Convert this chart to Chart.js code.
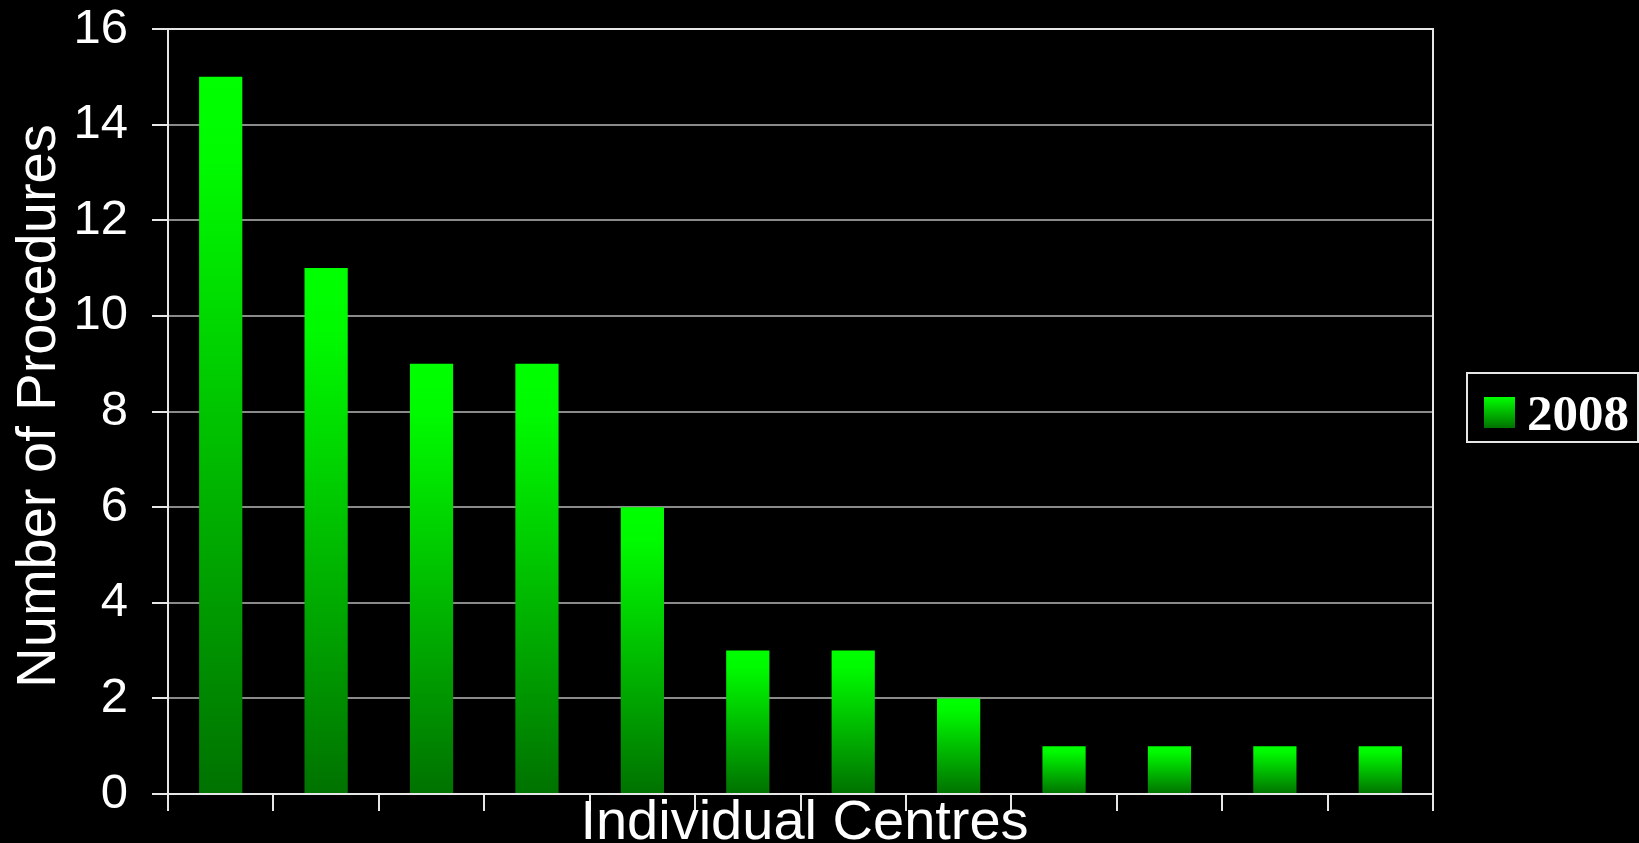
<!DOCTYPE html>
<html>
<head>
<meta charset="utf-8">
<style>
  html, body { margin: 0; padding: 0; background: #000; }
  #wrap { width: 1639px; height: 843px; position: relative; }
  canvas { display: block; }
</style>
<script src="https://cdn.jsdelivr.net/npm/chart.js@4/dist/chart.umd.min.js"></script>
</head>
<body>
<div id="wrap"><canvas id="c" width="1639" height="843"></canvas></div>
<script>
const categories = ['1','2','3','4','5','6','7','8','9','10','11','12'];
const seriesName = '2008';
const values2008 = [15, 11, 9, 9, 6, 3, 3, 2, 1, 1, 1, 1];
const yTicks = [0, 2, 4, 6, 8, 10, 12, 14, 16];
const yTitle = 'Number of Procedures';
const xTitle = 'Individual Centres';

const BRIGHT = '#00ff00';
const DARK = '#007200';
const AXIS = '#e6e6e6';
const GRID = '#8a8a8a';

function barGradient(ctx) {
  const chart = ctx.chart;
  if (!chart.chartArea || ctx.type !== 'data') return BRIGHT;
  const ys = chart.scales.y;
  const top = ys.getPixelForValue(ctx.raw);
  const bot = ys.getPixelForValue(0);
  const g = chart.ctx.createLinearGradient(0, top, 0, bot);
  g.addColorStop(0, BRIGHT);
  g.addColorStop(0.12, '#00fa00');
  g.addColorStop(1, DARK);
  return g;
}

const decor = {
  id: 'decor',
  beforeDatasetsDraw(chart) {
    const c = chart.ctx, a = chart.chartArea;
    c.save();
    c.strokeStyle = AXIS;
    c.lineWidth = 2;
    c.beginPath();
    c.moveTo(a.left, a.top);
    c.lineTo(a.right, a.top);
    c.lineTo(a.right, a.bottom);
    c.stroke();
    c.restore();
  },
  afterDraw(chart) {
    const c = chart.ctx, a = chart.chartArea;
    c.save();
    c.fillStyle = '#ffffff';
    c.font = '56px "Liberation Sans", Arial, sans-serif';
    c.save();
    c.translate(55, 406);
    c.rotate(-Math.PI / 2);
    c.textAlign = 'center';
    c.textBaseline = 'alphabetic';
    c.fillText(yTitle, 0, 0);
    c.restore();
    c.textAlign = 'center';
    c.textBaseline = 'alphabetic';
    c.fillText(xTitle, (a.left + a.right) / 2 + 4, 839);
    const lx = 1467, ly = 373, lw = 171, lh = 69;
    c.strokeStyle = AXIS;
    c.lineWidth = 2;
    c.strokeRect(lx, ly, lw, lh);
    const sg = c.createLinearGradient(0, 397, 0, 428);
    sg.addColorStop(0, BRIGHT);
    sg.addColorStop(1, DARK);
    c.fillStyle = sg;
    c.fillRect(1484, 397, 31, 31);
    c.fillStyle = '#ffffff';
    c.font = 'bold 51px "Liberation Serif", "Times New Roman", serif';
    c.textAlign = 'left';
    c.textBaseline = 'alphabetic';
    c.fillText(chart.data.datasets[0].label, 1527, 430);
    c.restore();
  }
};

new Chart(document.getElementById('c'), {
  type: 'bar',
  data: {
    labels: categories,
    datasets: [{
      label: seriesName,
      data: values2008,
      backgroundColor: barGradient,
      borderWidth: 0,
      barPercentage: 0.41,
      categoryPercentage: 1.0
    }]
  },
  options: {
    responsive: false,
    animation: false,
    devicePixelRatio: 1,
    layout: { padding: { top: 29, right: 206, left: 0, bottom: 0 } },
    plugins: { legend: { display: false }, tooltip: { enabled: false } },
    scales: {
      x: {
        afterFit(s) { s.height = 49; s.paddingLeft = 0; s.paddingRight = 0; },
        ticks: { display: false },
        grid: {
          display: true, drawOnChartArea: false, drawTicks: true,
          tickLength: 17, color: AXIS, lineWidth: 2, offset: true
        },
        border: { display: true, color: AXIS, width: 2 }
      },
      y: {
        min: 0, max: 16,
        afterFit(s) { s.width = 168; s.paddingTop = 0; s.paddingBottom = 0; },
        afterBuildTicks(s) { s.ticks = yTicks.map(v => ({ value: v })); },
        ticks: {
          color: '#ffffff',
          padding: 24,
          font: { family: '"Liberation Sans", Arial, sans-serif', size: 49 }
        },
        grid: {
          color: GRID, lineWidth: 2, tickColor: AXIS, tickLength: 16, drawTicks: true
        },
        border: { display: true, color: AXIS, width: 2 }
      }
    }
  },
  plugins: [decor]
});
</script>
</body>
</html>
